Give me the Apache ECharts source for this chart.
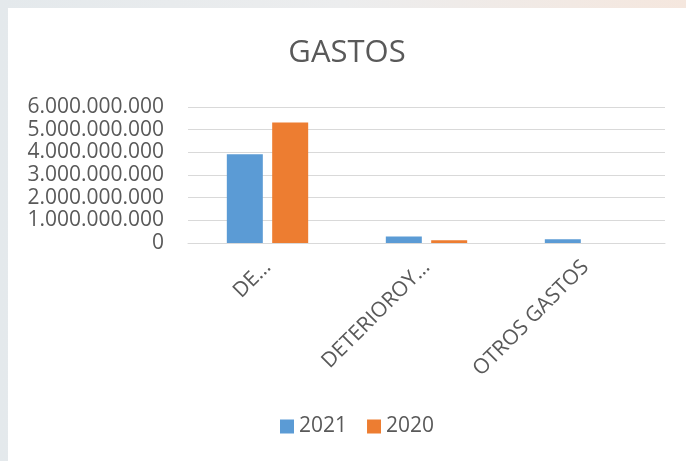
<!DOCTYPE html>
<html>
<head>
<meta charset="utf-8">
<script src="https://cdn.jsdelivr.net/npm/echarts@6/dist/echarts.min.js"></script>
<style>
  html, body {
    margin: 0;
    width: 686px;
    height: 461px;
    overflow: hidden;
    background: linear-gradient(90deg, #e4e9ec 0%, #ecedee 50%, #f5e7de 100%);
  }
  #chart {
    position: absolute;
    left: 8px;
    top: 8px;
    width: 678px;
    height: 453px;
    background: #ffffff;
  }
</style>
</head>
<body>
<div id="chart"></div>
<script>
  // datos
  const categories = ['DE…', 'DETERIOROY…', 'OTROS GASTOS']
  const seriesNames = ['2021', '2020']
  const values2021 = [3910000000, 285000000, 170000000]
  const values2020 = [5320000000, 120000000, 0]
  const barColors = ['#5b9bd5', '#ed7d31']

  const textColor = '#595959'
  const gridColor = '#d9d9d9'
  const fontFamily = '"Open Sans", "Noto Sans", sans-serif'

  // separador de miles con punto
  const formatThousands = (value) =>
    String(value).replace(/\B(?=(\d{3})+(?!\d))/g, '.')

  const chart = echarts.init(document.getElementById('chart'))

  const option = {
    animation: false,
    textStyle: { fontFamily: fontFamily },
    title: {
      text: 'GASTOS',
      left: 'center',
      top: 25,
      textStyle: {
        fontSize: 31,
        fontWeight: 'normal',
        color: textColor,
        fontFamily: fontFamily
      }
    },
    legend: {
      data: seriesNames,
      left: 272,
      top: 408,
      padding: 0,
      itemWidth: 14,
      itemHeight: 14,
      itemGap: 20,
      icon: 'rect',
      textStyle: {
        fontSize: 21,
        color: textColor
      }
    },
    grid: {
      left: 180,
      right: 21,
      top: 99,
      bottom: 218,
      containLabel: false
    },
    xAxis: {
      type: 'category',
      data: categories,
      axisTick: { show: false },
      axisLine: {
        show: true,
        lineStyle: { color: gridColor, width: 1 }
      },
      axisLabel: {
        interval: 0,
        rotate: 45,
        margin: 21,
        fontSize: 21,
        color: textColor
      }
    },
    yAxis: {
      type: 'value',
      min: 0,
      max: 6000000000,
      interval: 1000000000,
      axisLine: { show: false },
      axisTick: { show: false },
      axisLabel: {
        margin: 24,
        fontSize: 21,
        color: textColor,
        formatter: formatThousands
      },
      splitLine: {
        lineStyle: { color: gridColor, width: 1 }
      }
    },
    series: [
      {
        name: seriesNames[0],
        type: 'bar',
        data: values2021,
        barWidth: 36,
        barGap: '26%',
        itemStyle: { color: barColors[0] }
      },
      {
        name: seriesNames[1],
        type: 'bar',
        data: values2020,
        barWidth: 36,
        itemStyle: { color: barColors[1] }
      }
    ]
  }

  chart.setOption(option)
</script>
</body>
</html>
